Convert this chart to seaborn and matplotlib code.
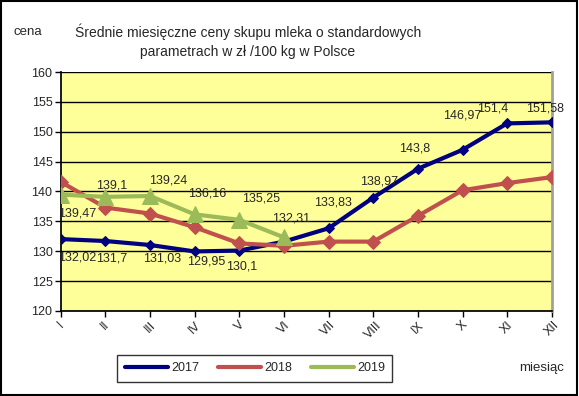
import numpy as np
import pandas as pd
import matplotlib
matplotlib.use("Agg")
import matplotlib.pyplot as plt
import seaborn as sns

# dane
months = ["I", "II", "III", "IV", "V", "VI", "VII", "VIII", "IX", "X", "XI", "XII"]
ceny_2017 = [132.02, 131.7, 131.03, 129.95, 130.1, 131.6, 133.83, 138.97, 143.8, 146.97, 151.4, 151.58]
ceny_2018 = [141.6, 137.3, 136.3, 134.0, 131.3, 130.9, 131.6, 131.6, 135.9, 140.2, 141.4, 142.4]
ceny_2019 = [139.47, 139.1, 139.24, 136.16, 135.25, 132.31]
labels_2017 = ["132,02", "131,7", "131,03", "129,95", "130,1", None,
               "133,83", "138,97", "143,8", "146,97", "151,4", "151,58"]
labels_2019 = ["139,47", "139,1", "139,24", "136,16", "135,25", "132,31"]

# przesunięcia etykiet (piksele)
off_2017 = [(16, -12), (6, -11), (12, -7), (11, -4), (2, -10), None,
            (4, 20), (6, 10), (-3, 14), (0, 28), (-14, 9), (-7, 8)]
off_2019 = [(16, -13), (6, 5), (18, 10), (12, 15), (22, 15), (7, 13)]

rows = []
for year, vals in [("2017", ceny_2017), ("2018", ceny_2018), ("2019", ceny_2019)]:
    for i, v in enumerate(vals):
        rows.append({"rok": year, "m": i, "cena": v})
df = pd.DataFrame(rows)

sns.set_theme(style="white")
plt.rcParams["font.family"] = ["Liberation Sans", "DejaVu Sans"]

fig = plt.figure(figsize=(5.79, 3.96), dpi=100)
ax = fig.add_axes([0.105, 0.215, 0.848, 0.603])
ax.set_facecolor("#FFFF99")

kolory = {"2017": "#000080", "2018": "#C0504D", "2019": "#9BBB59"}
markery = {"2017": "D", "2018": "D", "2019": "^"}
rozmiary = {"2017": 5, "2018": 7, "2019": 12}
for year in ["2017", "2018", "2019"]:
    sub = df[df["rok"] == year]
    sns.lineplot(data=sub, x="m", y="cena", ax=ax, color=kolory[year], lw=3,
                 marker=markery[year], markersize=rozmiary[year],
                 markeredgecolor=kolory[year], label=year, zorder=3 if year != "2019" else 4)


def etykieta(lab, x, y, off):
    dx, dy = off
    ax.annotate(lab, (x, y), xytext=(dx, dy), textcoords="offset pixels",
                ha="center", va="top" if dy < 0 else "bottom", fontsize=9, zorder=6)


for i, lab in enumerate(labels_2017):
    if lab is not None:
        etykieta(lab, i, ceny_2017[i], off_2017[i])
for i, lab in enumerate(labels_2019):
    etykieta(lab, i, ceny_2019[i], off_2019[i])

ax.set_xlim(0, 11)
ax.set_ylim(120, 160)
ax.set_yticks(np.arange(120, 161, 5))
ax.set_xticks(range(12))
ax.set_xticklabels(months, rotation=45, fontsize=9)
ax.tick_params(axis="y", labelsize=9, left=True, length=4, width=1, color="black", pad=2)
ax.tick_params(axis="x", bottom=True, length=4, width=1, color="black", pad=2)
ax.yaxis.grid(True, color="black", lw=1)
ax.set_axisbelow(True)
ax.spines["top"].set_visible(False)
ax.spines["left"].set_color("black")
ax.spines["bottom"].set_color("black")
ax.spines["right"].set_color("#A0A0A0")
ax.spines["right"].set_linewidth(2)
ax.set_xlabel("")
ax.set_ylabel("")

leg = ax.legend(loc="center", bbox_to_anchor=(0.44, 0.07), bbox_transform=fig.transFigure,
                ncol=3, frameon=True, fancybox=False, edgecolor="black", fontsize=9,
                handlelength=3.5, columnspacing=1.5, borderpad=0.6, handletextpad=0.2)
leg.get_frame().set_linewidth(1)
for h in leg.get_lines():
    h.set_marker("")

fig.text(0.048, 0.918, "cena", fontsize=9.5, ha="center", va="center")
fig.text(0.428, 0.895, "Średnie miesięczne ceny skupu mleka o standardowych\nparametrach w zł /100 kg w Polsce",
         fontsize=10, ha="center", va="center", linespacing=1.45)
fig.text(0.935, 0.07, "miesiąc", fontsize=9.5, ha="center", va="center")

fig.patches.append(plt.Rectangle((0.002, 0.003), 0.995, 0.994, transform=fig.transFigure,
                                 fill=False, edgecolor="black", lw=1.5))

fig.savefig("out.png", dpi=100)
